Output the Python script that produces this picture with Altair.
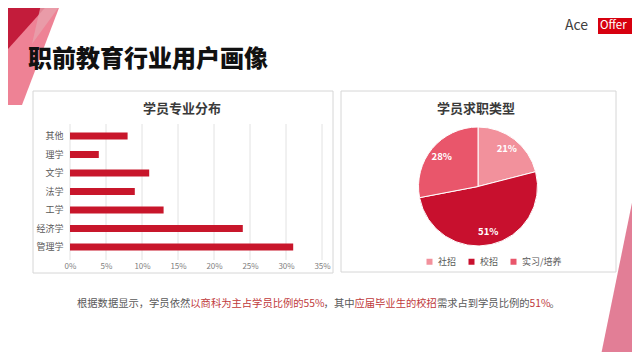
import altair as alt
import pandas as pd

FONT = "Noto Sans CJK SC"

# ---- data ----
majors = ["其他", "理学", "文学", "法学", "工学", "经济学", "管理学"]
major_share = [0.08, 0.04, 0.11, 0.09, 0.13, 0.24, 0.31]
x_ticks = [0, 0.05, 0.10, 0.15, 0.20, 0.25, 0.30, 0.35]

job_types = ["社招", "校招", "实习/培养"]
job_share = [0.21, 0.51, 0.28]
job_labels = ["21%", "51%", "28%"]
job_colors = ["#F2919C", "#C8102E", "#E9566B"]

main_title = "职前教育行业用户画像"
bar_title = "学员专业分布"
pie_title = "学员求职类型"
footer_text = ["根据数据显示，学员依然", "以商科为主占学员比例的55%", "，其中",
               "应届毕业生的校招", "需求占到学员比例的", "51%", "。"]
footer_red = [False, True, False, True, False, True, False]

df_major = pd.DataFrame({"major": majors, "share": major_share})
df_ticks = pd.DataFrame({"share": x_ticks})
df_job = pd.DataFrame({"type": job_types, "share": job_share,
                       "label": job_labels, "idx": list(range(len(job_types)))})
one = pd.DataFrame({"a": [0]})


def text(txt, x, y, size, color, weight="normal", align="left"):
    return alt.Chart(pd.DataFrame({"t": [txt]})).mark_text(
        align=align, baseline="middle", fontSize=size, color=color,
        fontWeight=weight, font=FONT
    ).encode(x=alt.value(x), y=alt.value(y), text="t:N")


def box(x1, y1, x2, y2):
    return alt.Chart(one).mark_rect(fill="white", stroke="#d6d6d6", strokeWidth=1).encode(
        x=alt.value(x1), x2=alt.value(x2), y=alt.value(y1), y2=alt.value(y2))


def shape(path, color, opacity=1.0):
    return alt.Chart(one).mark_point(
        shape=path, size=4, filled=True, color=color, opacity=opacity, strokeWidth=0
    ).encode(x=alt.value(0), y=alt.value(0))


def text_width(s, fs):
    w = 0.0
    for ch in s:
        if ch.isdigit():
            w += 0.55
        elif ch == "%":
            w += 0.84
        else:
            w += 1.0
    return w * fs


xenc = alt.X(
    "share:Q",
    scale=alt.Scale(domain=[0, 0.35], range=[62, 314], nice=False),
    axis=alt.Axis(values=x_ticks, format=".0%", orient="bottom", offset=-94,
                  grid=False, domain=False, ticks=False, labelFontSize=8,
                  labelColor="#7f7f7f", labelPadding=4, title=None, labelFont=FONT,
                  labelFlush=False, zindex=1),
)

grid = alt.Chart(df_ticks).mark_rule(color="#e2e2e2", strokeWidth=1).encode(
    x=xenc, y=alt.value(116), y2=alt.value(252))

bars = alt.Chart(df_major).mark_bar(color="#C8162B").encode(
    x=xenc,
    y=alt.Y("major:N", sort=majors,
            scale=alt.Scale(range=[118.75, 248.25], paddingInner=0.62, paddingOuter=0.31),
            axis=alt.Axis(orient="left", offset=-62, domain=False, ticks=False,
                          labelPadding=7, labelFontSize=9, labelColor="#595959",
                          title=None, labelFont=FONT, zindex=1)),
)

theta = alt.Theta("share:Q", stack=True)
order = alt.Order("idx:Q")

pie = alt.Chart(df_job).mark_arc(radius=59.5, stroke="white", strokeWidth=1).encode(
    theta=theta,
    order=order,
    color=alt.Color("type:N", sort=job_types,
                    scale=alt.Scale(domain=job_types, range=job_colors),
                    legend=alt.Legend(orient="none", legendX=417, legendY=249,
                                      direction="horizontal", title=None,
                                      symbolType="square", symbolSize=36,
                                      symbolStrokeWidth=0, labelFontSize=9,
                                      labelColor="#595959", labelFont=FONT,
                                      columnPadding=10, labelOffset=4)),
    x=alt.value(470), y=alt.value(178.5),
)

pie_text = alt.Chart(df_job).mark_text(
    radius=47, fontSize=9.5, fontWeight="bold", color="white", font=FONT
).encode(theta=theta, order=order, text="label:N",
         x=alt.value(470), y=alt.value(178.5))

deco = [
    shape("M-8,-8 L54,-8 L14,97 L-8,97 Z", "#EC7489", 0.9),
    shape("M-8,-8 L44,-8 L-8,50 Z", "#C31C3B", 1.0),
    shape("M34,-8 L56,-8 L24,36 Z", "#E7A1AC", 0.8),
    shape("M627,180 L592,352 L640,352 Z", "#E07790", 0.95),
]

logo = [
    alt.Chart(one).mark_rect(fill="#D7000F").encode(
        x=alt.value(590), x2=alt.value(624), y=alt.value(10), y2=alt.value(26)),
    text("Ace", 557, 18, 14, "#404040"),
    text("Offer", 592, 18, 11.5, "white"),
]

texts = [
    text(main_title, 20, 52, 24, "#111111", weight=900),
    text(bar_title, 174, 101, 13, "#3a3a3a", weight="bold", align="center"),
    text(pie_title, 468, 101, 13, "#3a3a3a", weight="bold", align="center"),
]
FS = 10.3
cur = 69.0
for seg, red in zip(footer_text, footer_red):
    texts.append(text(seg, cur, 296, FS, "#C0393B" if red else "#595959"))
    cur += text_width(seg, FS)

chart = alt.layer(
    *deco,
    box(25, 83, 325, 265),
    box(333, 83, 608, 264),
    grid, bars, pie, pie_text,
    *logo, *texts,
).properties(
    width=624, height=344,
    autosize=alt.AutoSizeParams(type="none"),
    padding=0,
    background="white",
).configure_view(stroke=None)

chart.save("out.html", embed_options={"renderer": "svg", "actions": False})
